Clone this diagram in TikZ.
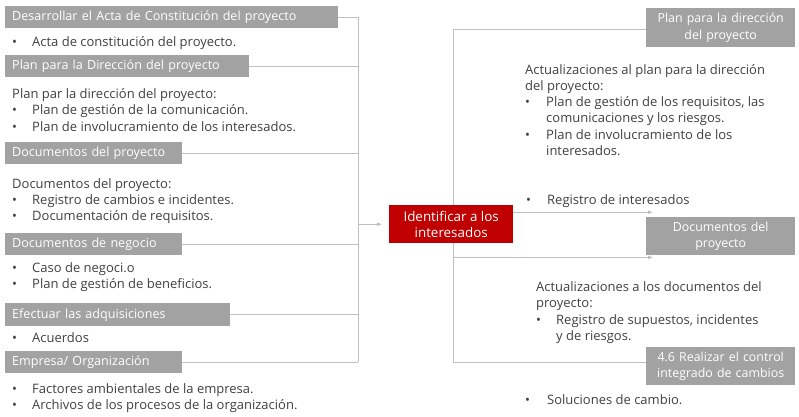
\documentclass[tikz,border=0pt]{standalone}
\usepackage{fontspec}
\setmainfont{Open Sans}
\usepackage{xcolor}
\usepackage{tikz}
\usetikzlibrary{positioning, arrows.meta, backgrounds}
\definecolor{pmGray}{RGB}{162, 162, 162}
\definecolor{pmLine}{RGB}{191, 191, 191}
\definecolor{pmText}{RGB}{64, 64, 64}
\definecolor{pmRed}{RGB}{192, 0, 0}
\newcommand{\blt}{\makebox[20pt][l]{\textbullet}}
\newcommand{\bltw}{\makebox[21pt][l]{\textbullet}}
\newcommand{\hng}{\hspace*{20pt}}
\newcommand{\hngw}{\hspace*{21pt}}
\newcommand{\lines}[1]{\begin{tabular}[t]{@{}l@{}}#1\end{tabular}}
\tikzset{
    base/.style={
        font=\fontsize{13}{16.3}\selectfont,
        inner sep=0pt
    },
    inbox/.style={
        base,
        font=\fontsize{12.6}{16.3}\selectfont,
        rectangle,
        fill=pmGray,
        text=white,
        inner xsep=7pt,
        align=left,
        minimum height=22pt,
        anchor=north west
    },
    outbox/.style={
        base,
        font=\fontsize{12.4}{16.5}\selectfont,
        rectangle,
        fill=pmGray,
        text=white,
        text width=145pt,
        align=center,
        minimum width=149pt,
        minimum height=38pt,
        anchor=north west
    },
    process/.style={
        base,
        font=\fontsize{13.4}{16.5}\selectfont,
        rectangle,
        fill=pmRed,
        text=white,
        align=center,
        minimum width=124pt,
        minimum height=38pt,
        anchor=north west
    },
    txt/.style={
        base,
        text=pmText,
        anchor=base west
    },
    conn/.style={
        draw=pmLine,
        line width=0.8pt
    },
    flow/.style={
        conn,
        -{Latex[length=5pt,width=4pt]},
        shorten >=7pt
    }
}

\begin{document}
\begin{tikzpicture}[x=1pt, y=-1pt]
    \useasboundingbox (0,0) rectangle (799,416);

    % Inputs
    \node[inbox, text width=319pt] (acta) at (5,6) {Desarrollar el Acta de Constitución del proyecto};
    \node[txt] (tActa) at (12,46) {\blt Acta de constitución del proyecto.};

    \node[inbox, text width=230pt] (planD) at (5,55) {Plan para la Dirección del proyecto};
    \node[txt] (tPlanD) at (12,98.5) {\lines{Plan par la dirección del proyecto:\\
        \blt Plan de gestión de la comunicación.\\
        \blt Plan de involucramiento de los interesados.}};

    \node[inbox, text width=163pt] (docs) at (5,142) {Documentos del proyecto};
    \node[txt] (tDocs) at (12,188) {\lines{Documentos del proyecto:\\
        \blt Registro de cambios e incidentes.\\
        \blt Documentación de requisitos.}};

    \node[inbox, text width=163pt] (negocio) at (5,233) {Documentos de negocio};
    \node[txt] (tNegocio) at (12,272) {\lines{\blt Caso de negoci.o\\
        \blt Plan de gestión de beneficios.}};

    \node[inbox, text width=211pt, minimum height=23pt] (adq) at (5,303) {Efectuar las adquisiciones};
    \node[txt] (tAdq) at (12,342.5) {\blt Acuerdos};

    \node[inbox, text width=163pt] (empresa) at (5,351) {Empresa/ Organización};
    \node[txt] (tEmpresa) at (12,393.5) {\lines{\blt Factores ambientales de la empresa.\\
        \blt Archivos de los procesos de la organización.}};

    % Process
    \node[process] (ident) at (389,205) {Identificar a los\\interesados};

    % Outputs
    \node[outbox, minimum height=39pt] (planR) at (646,8) {Plan para la dirección\\del proyecto};
    \node[txt] (tPlanR) at (525,74) {\lines{Actualizaciones al plan para la dirección\\
        del proyecto:\\
        \bltw Plan de gestión de los requisitos, las\\
        \hngw comunicaciones y los riesgos.\\
        \bltw Plan de involucramiento de los\\
        \hngw interesados.}};
    \node[txt] (tReg) at (526,204.5) {\bltw Registro de interesados};

    \node[outbox] (docsR) at (646,217) {Documentos del\\proyecto};
    \node[txt] (tDocsR) at (536,291.5) {\lines{Actualizaciones a los documentos del\\
        proyecto:\\
        \blt Registro de supuestos, incidentes\\
        \hng y de riesgos.}};

    \node[outbox] (control) at (646,347) {4.6 Realizar el control\\integrado de cambios};
    \node[txt] (tControl) at (525,404.5) {\makebox[22pt][l]{\textbullet}Soluciones de cambio.};

    % Connectors
    \coordinate (lt) at (358,0);
    \coordinate (rt) at (453,0);
    \coordinate (planIn) at ([yshift=-1.5pt]planR.west);
    \coordinate (ctrlIn) at ([yshift=3.5pt]control.west);
    \coordinate (regOut) at ([yshift=12pt]ident.east);
    \coordinate (docsTip) at ([xshift=7pt]docsR.north west);
    \coordinate (docsLow) at ([xshift=7pt, yshift=-2pt]docsR.south west);
    \begin{scope}[on background layer]
        \foreach \n in {acta, planD, docs, negocio, adq, empresa} {
            \draw[conn] (\n.east) -- (\n.east -| lt);
        }
        \draw[conn] (acta.east -| lt) -- (empresa.east -| lt);
        \draw[conn] (rt |- planIn) -- (rt |- ctrlIn);
        \draw[conn] (rt |- planIn) -- (planIn);
        \draw[conn] (rt |- ctrlIn) -- (ctrlIn);
    \end{scope}
    \draw[flow] (ident.west -| lt) -- (ident.west);
    \draw[flow, shorten >=0pt] (regOut) -- (regOut -| docsTip);
    \draw[flow, shorten >=0pt] (rt |- docsLow) -- (docsLow);

\end{tikzpicture}
\end{document}
